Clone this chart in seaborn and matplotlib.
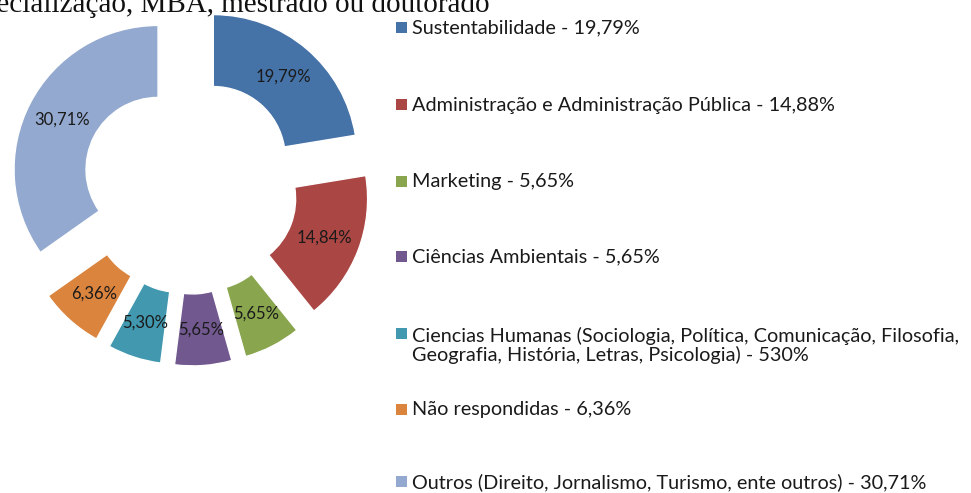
import matplotlib
matplotlib.use("Agg")
import matplotlib.pyplot as plt
import seaborn as sns
from matplotlib.patches import Rectangle

# ---- data ----
categories = [
    "Sustentabilidade - 19,79%",
    "Administração e Administração Pública - 14,88%",
    "Marketing - 5,65%",
    "Ciências Ambientais - 5,65%",
    "Ciencias Humanas (Sociologia, Política, Comunicação, Filosofia,\nGeografia, História, Letras, Psicologia) - 530%",
    "Não respondidas - 6,36%",
    "Outros (Direito, Jornalismo, Turismo, ente outros) - 30,71%",
]
values = [19.79, 14.84, 5.65, 5.65, 5.30, 6.36, 30.71]
slice_labels = ["19,79%", "14,84%", "5,65%", "5,65%", "5,30%", "6,36%", "30,71%"]
colors = ["#4572A7", "#AA4643", "#89A54E", "#71588F", "#4198AF", "#DB843D", "#93A9CF"]
title_text = "Formação: especialização, MBA, mestrado ou doutorado"

sns.set_theme(style="white")
plt.rcParams["font.family"] = ["Lato", "DejaVu Sans"]

W, H = 971, 493
fig = plt.figure(figsize=(W / 100, H / 100), dpi=100)

# donut axes: center at (190,186) px, radius 144 px
R = 144.0
lim = 1.3
size = 2 * lim * R
cx, cy = 190.0, 186.0
ax = fig.add_axes([(cx - size / 2) / W, (H - cy - size / 2) / H, size / W, size / H])
wedges, texts = ax.pie(
    values,
    labels=slice_labels,
    colors=colors,
    startangle=90,
    counterclock=False,
    explode=[0.25] * len(values),
    labeldistance=0.75,
    wedgeprops=dict(width=0.5, edgecolor="white", linewidth=1.0),
    textprops=dict(fontsize=12, color="#1a1a1a", ha="center", va="center"),
)
for t in texts:
    t.set_ha("center")
    t.set_va("center")
ax.set_xlim(-lim, lim)
ax.set_ylim(-lim, lim)
ax.set_aspect("equal")
ax.axis("off")

# overlay axes for legend & title (pixel coordinates)
ov = fig.add_axes([0, 0, 1, 1], facecolor="none")
ov.set_xlim(0, W)
ov.set_ylim(H, 0)
ov.axis("off")

leg_y = [27, 104, 181, 256, 333, 409, 481]
for lab, col, y in zip(categories, colors, leg_y):
    ov.add_patch(Rectangle((396, y - 5.5), 11, 11, facecolor=col, edgecolor="none"))
    nlines = lab.count("\n") + 1
    yc = y + 1 + (nlines - 1) * 23 / 2
    ov.text(412, yc, lab, fontsize=14.3, color="#1a1a1a", ha="left", va="center",
            linespacing=1.12)

fig.text(490 / W, 1 - 12 / H, title_text, fontsize=21, ha="right", va="baseline",
         family=["Liberation Serif", "DejaVu Serif"], color="#111111")

fig.savefig("out.png", dpi=100)
